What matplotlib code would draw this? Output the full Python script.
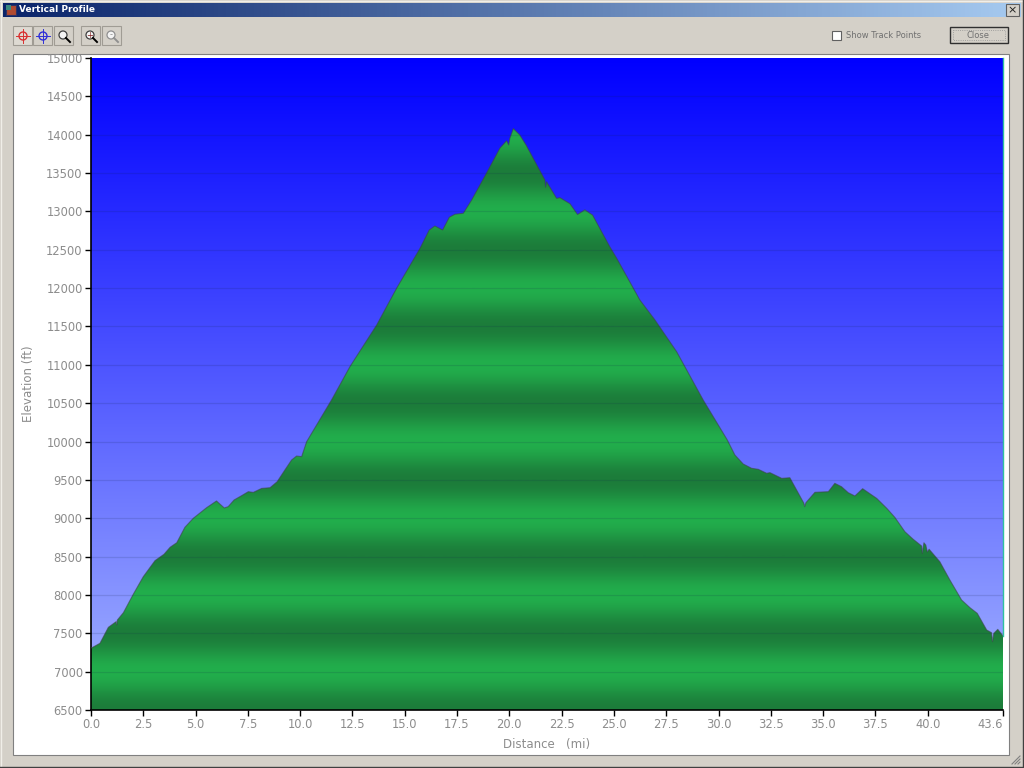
#!/usr/bin/env python3
import matplotlib
matplotlib.use('Agg')
import matplotlib.pyplot as plt
from matplotlib.patches import Rectangle, Polygon, Circle
from matplotlib.colors import LinearSegmentedColormap
import numpy as np

# Track profile
distance = [0.0, 0.08, 0.43, 0.83, 1.2, 1.23, 1.26, 1.55, 2.02, 2.5, 3.06, 3.49, 3.78, 4.1, 4.49, 4.89,
            5.53, 6.0, 6.37, 6.56, 6.84, 7.2, 7.52, 7.76, 8.16, 8.56, 8.9, 9.27, 9.59, 9.83, 10.07,
            10.31, 11.5, 12.38, 13.66, 14.61, 15.73, 16.17, 16.44, 16.81, 17.13, 17.4, 17.8, 18.2,
            18.91, 19.55, 19.87, 19.97, 20.02, 20.19, 20.5, 20.8, 21.7, 21.73, 21.78, 22.26, 22.42,
            22.9, 23.26, 23.61, 23.98, 24.8, 25.13, 26.24, 26.96, 28.0, 29.27, 30.42, 30.78, 31.18,
            31.58, 31.9, 32.3, 32.46, 33.02, 33.41, 34.08, 34.12, 34.18, 34.61, 35.25, 35.56, 35.88,
            36.2, 36.52, 36.89, 37.56, 38.04, 38.43, 38.91, 39.31, 39.71, 39.74, 39.82, 39.91, 39.98,
            40.07, 40.58, 41.06, 41.62, 42.02, 42.37, 42.82, 43.05, 43.1, 43.16, 43.35, 43.6]
elevation = [7310, 7317, 7370, 7578, 7651, 7608, 7673, 7769, 8008, 8238, 8447, 8530, 8621, 8681, 8882, 8999,
             9138, 9225, 9134, 9151, 9238, 9294, 9346, 9337, 9389, 9398, 9476, 9629, 9759, 9811, 9803,
             9998, 10542, 10976, 11520, 11998, 12519, 12758, 12810, 12758, 12924, 12963, 12976, 13150,
             13500, 13825, 13921, 13866, 13950, 14080, 13996, 13865, 13409, 13315, 13387, 13170, 13179,
             13100, 12960, 13020, 12952, 12540, 12390, 11845, 11585, 11170, 10540, 10020, 9825, 9707,
             9651, 9638, 9586, 9594, 9520, 9528, 9195, 9151, 9203, 9338, 9346, 9455, 9411,
             9333, 9290, 9385, 9259, 9130, 9011, 8824, 8725, 8638, 8540, 8680, 8650, 8560,
             8595, 8433, 8195, 7934, 7834, 7760, 7543, 7508, 7391, 7499, 7551, 7465]

x_ticks = [0.0, 2.5, 5.0, 7.5, 10.0, 12.5, 15.0, 17.5, 20.0, 22.5, 25.0, 27.5, 30.0, 32.5, 35.0, 37.5, 40.0, 43.6]
y_ticks = list(range(6500, 15001, 500))

XMAX = 43.6
YMIN, YMAX = 6500, 15000
W, H = 1024, 768
CHROME = '#d4d0c8'

fig = plt.figure(figsize=(W / 100, H / 100), dpi=100, facecolor=CHROME)

# window furniture, drawn in pixel coordinates
ui = fig.add_axes([0, 0, 1, 1], zorder=0)
title_cmap = LinearSegmentedColormap.from_list('title', ['#0a246a', '#a6caf0'])
ui.imshow(np.linspace(0, 1, 256).reshape(1, -1), extent=(3, 1021, 17, 3), cmap=title_cmap, aspect='auto')
ui.set_xlim(0, W)
ui.set_ylim(H, 0)
ui.axis('off')
ui.text(19, 10, 'Vertical Profile', color='white', fontsize=6.5, fontweight='bold',
        family='DejaVu Sans', va='center')
ui.add_patch(Rectangle((6, 5), 10, 10, fc='#b04a30', ec='#303060', lw=0.8))
ui.add_patch(Rectangle((6, 5), 5, 5, fc='#3a8a80', ec='none'))
ui.add_patch(Rectangle((1006, 4), 13, 12, fc=CHROME, ec='#606060', lw=0.8))
ui.text(1012.5, 10, '×', color='#202020', fontsize=8, ha='center', va='center')
ui.plot([0, W], [1, 1], color='#f0eee8', lw=1)
ui.plot([1, 1], [0, H], color='#f0eee8', lw=1)
ui.plot([0, W], [H - 1, H - 1], color='#404040', lw=1)
ui.plot([W - 1, W - 1], [0, H], color='#404040', lw=1)

# toolbar buttons
for bx in [13, 33, 54, 81, 102]:
    ui.add_patch(Rectangle((bx, 26), 19, 19, fc='#dedad2' if bx == 13 else CHROME, ec='#a09c94', lw=0.8))
for cx, col in [(23, '#d83030'), (43, '#3030d8')]:
    ui.add_patch(Circle((cx, 36), 4, fc='none', ec=col, lw=1))
    ui.plot([cx - 7, cx + 7], [36, 36], color=col, lw=0.7)
    ui.plot([cx, cx], [29, 43], color=col, lw=0.7)
for cx, sym, col in [(64, '', '#404040'), (91, '+', '#802020'), (112, '-', '#909090')]:
    ui.add_patch(Circle((cx - 1, 35), 4, fc='#f4f4f4', ec=col if cx == 112 else '#404040', lw=0.9))
    ui.plot([cx + 2, cx + 6], [38, 42], color=col if cx == 112 else 'black', lw=1.4)
    if sym:
        ui.text(cx - 1, 35, sym, color=col, fontsize=6, ha='center', va='center')

ui.add_patch(Rectangle((832, 31), 9, 9, fc='white', ec='#606060', lw=0.8))
ui.text(846, 36, 'Show Track Points', color='#707070', fontsize=6, family='DejaVu Sans', va='center')
ui.add_patch(Rectangle((950, 27), 58, 16, fc=CHROME, ec='#303030', lw=1))
ui.add_patch(Rectangle((953, 30), 52, 10, fc='none', ec='#909090', lw=0.6, ls=':'))
ui.text(978, 35, 'Close', color='#707070', fontsize=6, family='DejaVu Sans', ha='center', va='center')

# white panel holding the chart
ui.add_patch(Rectangle((13, 54), 996, 701, fc='white', ec='#808080', lw=0.8))
for i in range(3):
    ui.plot([W - 12 + 3 * i, W - 4], [H - 4, H - 12 + 3 * i], color='#808080', lw=0.8)

# plot area
ax = fig.add_axes([91 / W, 1 - 710 / H, (1003 - 91) / W, (710 - 58) / H], zorder=1)

sky = LinearSegmentedColormap.from_list('sky', ['#0000ff', '#a4b4ff'])
ax.imshow(np.linspace(0, 1, 256).reshape(-1, 1), extent=(0, XMAX, YMIN, YMAX), cmap=sky,
          aspect='auto', zorder=1)

# green banding: darkest on x500 lines, brightest on x000 lines
levels = np.linspace(YMAX, YMIN, 1024)
band = 0.5 + 0.5 * np.cos(2 * np.pi * (levels - 6500) / 1000)
ground = LinearSegmentedColormap.from_list('ground', ['#22ae4c', '#1c7c3a'])
img = ax.imshow(band.reshape(-1, 1), extent=(0, XMAX, YMIN, YMAX), cmap=ground, vmin=0, vmax=1,
                aspect='auto', zorder=2)
outline = list(zip(distance, elevation)) + [(XMAX, YMIN), (0, YMIN)]
clip = Polygon(outline, closed=True, transform=ax.transData, fc='none', ec='none')
ax.add_patch(clip)
img.set_clip_path(clip)
ax.set_xlim(0, XMAX)
ax.set_ylim(YMIN, YMAX)

ax.plot(distance, elevation, color='#3c4648', lw=0.8, alpha=0.6, zorder=3)
for y in y_ticks[1:-1]:
    ax.axhline(y, color='#10204a', lw=0.9, alpha=0.14, zorder=4)
ax.plot([XMAX, XMAX], [7465, YMAX], color='#30c0a0', lw=1, zorder=4, clip_on=False)

ax.set_xticks(x_ticks)
ax.set_xticklabels(['%.1f' % v for v in x_ticks])
ax.get_xticklabels()[-1].set_ha('right')
ax.set_yticks(y_ticks)
ax.tick_params(axis='both', length=4, width=1, color='black', labelcolor='#8c8c8c', labelsize=8.3, pad=2)
for side in ['top', 'right']:
    ax.spines[side].set_visible(False)
for side in ['left', 'bottom']:
    ax.spines[side].set_linewidth(1.2)
ax.set_xlabel('Distance   (mi)', color='#8c8c8c', fontsize=8.5, labelpad=5)
ax.set_ylabel('Elevation (ft)', color='#8c8c8c', fontsize=8.5, labelpad=8)

fig.savefig('out.png', dpi=100, facecolor=CHROME)
